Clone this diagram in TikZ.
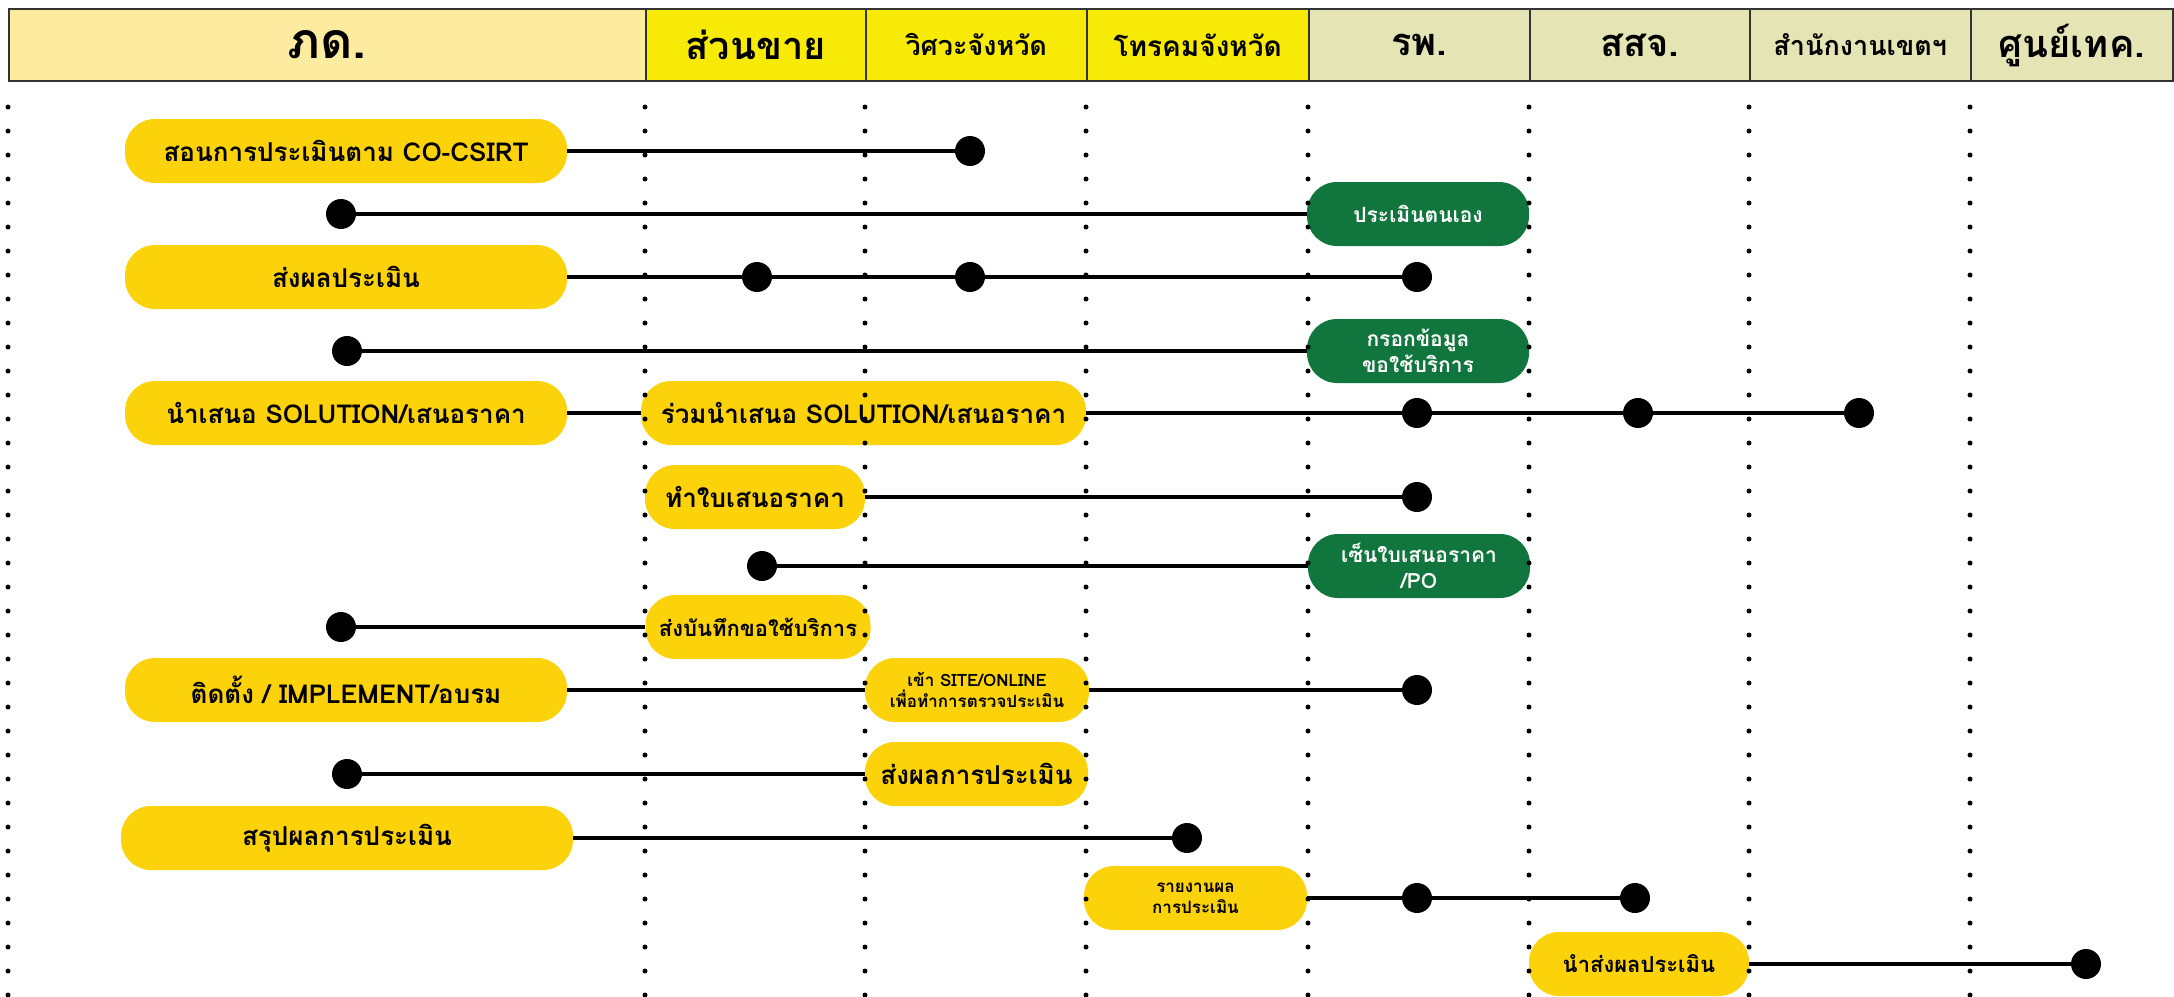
\documentclass[tikz,border=0pt]{standalone}
\usepackage{fontspec}
\setmainfont[Script=Thai]{Loma}
\usepackage{xcolor}
\usetikzlibrary{positioning}

\definecolor{hdrA}{RGB}{253,236,160}
\definecolor{hdrB}{RGB}{246,234,6}
\definecolor{hdrC}{RGB}{228,228,180}
\definecolor{taskyellow}{RGB}{252,210,10}
\definecolor{taskgreen}{RGB}{17,118,61}

\begin{document}
\begin{tikzpicture}[x=1pt, y=-1pt, node distance=221pt, on grid,
        hcell/.style={draw=black!80, line width=1.5pt, minimum height=72pt, anchor=west, inner sep=0pt, font=\bfseries\fontsize{38}{40}\selectfont},
        task/.style={fill=taskyellow, rounded corners=30pt, minimum height=64pt, inner sep=0pt, align=center, font=\bfseries\fontsize{26}{30}\selectfont},
        small/.style={font=\bfseries\fontsize{17}{21}\selectfont},
        gtask/.style={task, fill=taskgreen, text=white, minimum width=222pt, font=\bfseries\fontsize{21}{26}\selectfont},
        pt/.style={circle, fill=black, minimum size=30pt, inner sep=0pt},
        link/.style={line width=4pt}]
    \useasboundingbox (0,0) rectangle (2174,996);

    % header
    \node[hcell, fill=hdrA, minimum width=637pt, font=\bfseries\fontsize{50}{52}\selectfont] (h0) at (8,45) {ภด.};
    \node[hcell, fill=hdrB, minimum width=220pt] (h1) at (645,45) {ส่วนขาย};
    \node[hcell, fill=hdrB, minimum width=221pt, font=\bfseries\fontsize{27}{30}\selectfont] (h2) at (865,45) {วิศวะจังหวัด};
    \node[hcell, fill=hdrB, minimum width=222pt, font=\bfseries\fontsize{28}{30}\selectfont] (h3) at (1086,45) {โทรคมจังหวัด};
    \node[hcell, fill=hdrC, minimum width=221pt] (h4) at (1308,45) {รพ.};
    \node[hcell, fill=hdrC, minimum width=220pt] (h5) at (1529,45) {สสจ.};
    \node[hcell, fill=hdrC, minimum width=221pt, font=\bfseries\fontsize{27}{30}\selectfont] (h6) at (1749,45) {สำนักงานเขตฯ};
    \node[hcell, fill=hdrC, minimum width=202pt] (h7) at (1970,45) {ศูนย์เทค.};

    % tasks
    \node[task, minimum width=442pt] (r1) at (346,151) {สอนการประเมินตาม CO-CSIRT};
    \node[pt] (d1) at (970,151) {};

    \node[gtask] (g2) at (1418,214) {ประเมินตนเอง};
    \node[pt] (d2) at (341,214) {};

    \node[task, minimum width=442pt] (r3) at (346,277) {ส่งผลประเมิน};
    \node[pt] (d3a) at (757,277) {};
    \node[pt] (d3b) at (970,277) {};
    \node[pt] (d3c) at (1417,277) {};

    \node[gtask] (g4) at (1418,351) {กรอกข้อมูล\\ขอใช้บริการ};
    \node[pt] (d4) at (347,351) {};

    \node[task, minimum width=442pt] (r5) at (346,413) {นำเสนอ SOLUTION/เสนอราคา};
    \node[task, minimum width=445pt] (r5b) at (863.5,413) {ร่วมนำเสนอ SOLUTION/เสนอราคา};
    \node[pt] (d5a) at (1417,413) {};
    \node[pt] (d5b) [right=of d5a] {};
    \node[pt] (d5c) [right=of d5b] {};

    \node[task, minimum width=220pt] (r6) at (755,497) {ทำใบเสนอราคา};
    \node[pt] (d6) at (1417,497) {};

    \node[gtask] (g7) at (1419,566) {เซ็นใบเสนอราคา\\/PO};
    \node[pt] (d7) at (762,566) {};

    \node[task, minimum width=225pt, font=\bfseries\fontsize{22}{26}\selectfont] (r8) at (758,627) {ส่งบันทึกขอใช้บริการ};
    \node[pt] (d8) at (341,627) {};

    \node[task, minimum width=442pt] (r9) at (346,690) {ติดตั้ง / IMPLEMENT/อบรม};
    \node[task, small, minimum width=224pt] (r9b) at (977,690) {เข้า SITE/ONLINE\\เพื่อทำการตรวจประเมิน};
    \node[pt] (d9) at (1417,690) {};

    \node[task, minimum width=223pt] (r10) at (976.5,774) {ส่งผลการประเมิน};
    \node[pt] (d10) at (347,774) {};

    \node[task, minimum width=452pt] (r11) at (347,838) {สรุปผลการประเมิน};
    \node[pt] (d11) at (1187,838) {};

    \node[task, small, minimum width=223pt] (r12) at (1195.5,898) {รายงานผล\\การประเมิน};
    \node[pt] (d12a) at (1417,898) {};
    \node[pt] (d12b) at (1635,898) {};

    \node[task, minimum width=220pt, font=\bfseries\fontsize{22}{26}\selectfont] (r13) at (1639,964) {นำส่งผลประเมิน};
    \node[pt] (d13) at (2086,964) {};

    \path[link]
    (r1) edge (d1)
    (d2) edge (g2)
    (r3) edge (d3a)
    (d3a) edge (d3b)
    (d3b) edge (d3c)
    (d4) edge (g4)
    (r5) edge (r5b)
    (r5b) edge (d5a)
    (d5a) edge (d5b)
    (d5b) edge (d5c)
    (r6) edge (d6)
    (d7) edge (g7)
    (d8) edge (r8)
    (r9) edge (r9b)
    (r9b) edge (d9)
    (d10) edge (r10)
    (r11) edge (d11)
    (r12) edge (d12a)
    (d12a) edge (d12b)
    (r13) edge (d13);

    % lane guides
    \foreach \x in {8,645,865,1086,1308,1529,1749,1970}
        \draw[line width=5pt, line cap=round, dash pattern=on 0pt off 24pt] (\x,107) -- (\x,996);
\end{tikzpicture}
\end{document}
